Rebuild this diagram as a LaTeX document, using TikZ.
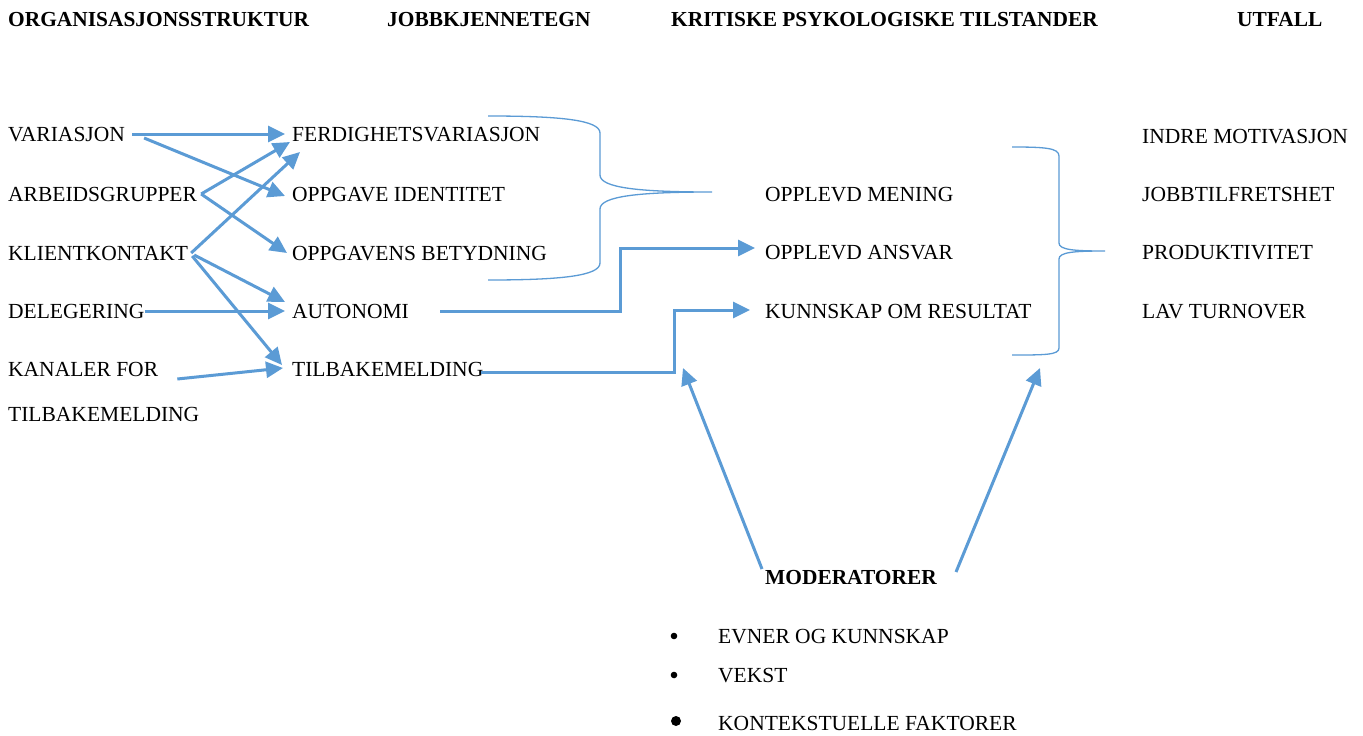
\documentclass[tikz,border=0pt]{standalone}
\usepackage{fontspec}
\setmainfont{Liberation Serif}
\usepackage{tikz}
\usetikzlibrary{calc,arrows.meta}
\definecolor{lineblue}{HTML}{5B9BD5}

\begin{document}
\begin{tikzpicture}[x=1pt,y=-1pt,
    lbl/.style={anchor=west,inner sep=0pt,text height=14pt,text depth=0pt,
                font=\fontsize{21.5}{25}\selectfont},
    hd/.style={lbl,font=\fontsize{21.4}{25}\selectfont\bfseries},
    arr/.style={draw=lineblue,line width=3pt,-{Triangle[length=17pt,width=16pt]}},
    brace/.style={draw=lineblue,line width=1.3pt}]
    \fill [white] (0,0) rectangle (1363,736);
    % headings
    \node [hd] (hOrg) at (8,20) {ORGANISASJONSSTRUKTUR};
    \node [hd] (hJob) at (387,20) {JOBBKJENNETEGN};
    \node [hd] (hKrit) at (671,20) {KRITISKE PSYKOLOGISKE TILSTANDER};
    \node [hd] (hUtf) at (1237,20) {UTFALL};
    % organisasjonsstruktur
    \node [lbl] (var) at (8,134) {VARIASJON};
    \node [lbl] (arb) at (8,194) {ARBEIDSGRUPPER};
    \node [lbl] (kli) at (8,253) {KLIENTKONTAKT};
    \node [lbl] (del) at (8,311) {DELEGERING};
    \node [lbl] (kan) at (8,369) {KANALER FOR};
    \node [lbl] (kanB) at (8,414) {TILBAKEMELDING};
    % jobbkjennetegn
    \node [lbl] (ferd) at (292,134) {FERDIGHETSVARIASJON};
    \node [lbl] (oid) at (292,194) {OPPGAVE IDENTITET};
    \node [lbl] (obet) at (292,253) {OPPGAVENS BETYDNING};
    \node [lbl] (aut) at (292,311) {AUTONOMI};
    \node [lbl] (tilb) at (292,369) {TILBAKEMELDING};
    % tilstander
    \node [lbl] (men) at (765,194) {OPPLEVD MENING};
    \node [lbl] (ans) at (765,252) {OPPLEVD ANSVAR};
    \node [lbl] (kun) at (765,311) {KUNNSKAP OM RESULTAT};
    % utfall
    \node [lbl] (ind) at (1142,136) {INDRE MOTIVASJON};
    \node [lbl] (jtf) at (1142,194) {JOBBTILFRETSHET};
    \node [lbl] (prod) at (1142,252) {PRODUKTIVITET};
    \node [lbl] (lav) at (1142,311) {LAV TURNOVER};
    % moderatorer
    \node [hd] (mod) at (765,577) {MODERATORER};
    \node [lbl] (evn) at (718,636) {EVNER OG KUNNSKAP};
    \node [lbl] (vek) at (718,675) {VEKST};
    \node [lbl] (kon) at (718,723) {KONTEKSTUELLE FAKTORER};
    \fill (674,636) circle (3.3);
    \fill (674,675) circle (3.3);
    \fill (676,721) circle (5);
    \coordinate (modL) at (683,368);
    \coordinate (modR) at (1040,368);

    % arrows
    \draw [arr] ([xshift=7]var.east) -- ([xshift=-7]ferd.west);
    \draw [arr] ([shift={(19,4)}]var.east) -- ([shift={(-7,2)}]oid.west);
    \draw [arr] ([xshift=4]arb.east) -- ([shift={(-2,8)}]ferd.west);
    \draw [arr] ([xshift=4]arb.east) -- ([shift={(-5,0)}]obet.west);
    \draw [arr] ([xshift=3]kli.east) -- ([shift={(8,18)}]ferd.west);
    \draw [arr] ([shift={(6,2)}]kli.east) -- ([shift={(-7,-9)}]aut.west);
    \draw [arr] ([shift={(4,3)}]kli.east) -- ([shift={(-10,-4)}]tilb.west);
    \draw [arr] (del.east) -- ([xshift=-7]aut.west);
    \draw [arr] ([shift={(19,10)}]kan.east) -- ([shift={(-9,-1)}]tilb.west);
    \draw [arr] ([xshift=31]aut.east) -- ++(180,0) |- ([shift={(-10,-4)}]ans.west);
    \draw [arr] ([shift={(-2,3)}]tilb.east) -- ++(193,0) |- ([shift={(-15,-1)}]kun.west);
    \draw [arr] ([shift={(-3,-8)}]mod.west) -- (modL);
    \draw [arr] ([shift={(19,-5)}]mod.east) -- (modR);

    % braces
    \draw [brace] (488,116) .. controls (560,116) and (600,120) .. (600,133)
        -- (600,175) .. controls (600,188) and (640,192) .. (712,192)
        .. controls (640,192) and (600,196) .. (600,209)
        -- (600,263) .. controls (600,276) and (560,280) .. (488,280);
    \draw [brace] (1012,147) .. controls (1045,147) and (1059,148) .. (1059,156)
        -- (1059,243) .. controls (1059,250) and (1075,251) .. (1105,251)
        .. controls (1075,251) and (1059,252) .. (1059,259)
        -- (1059,348) .. controls (1059,355) and (1045,355) .. (1012,355);
\end{tikzpicture}
\end{document}
